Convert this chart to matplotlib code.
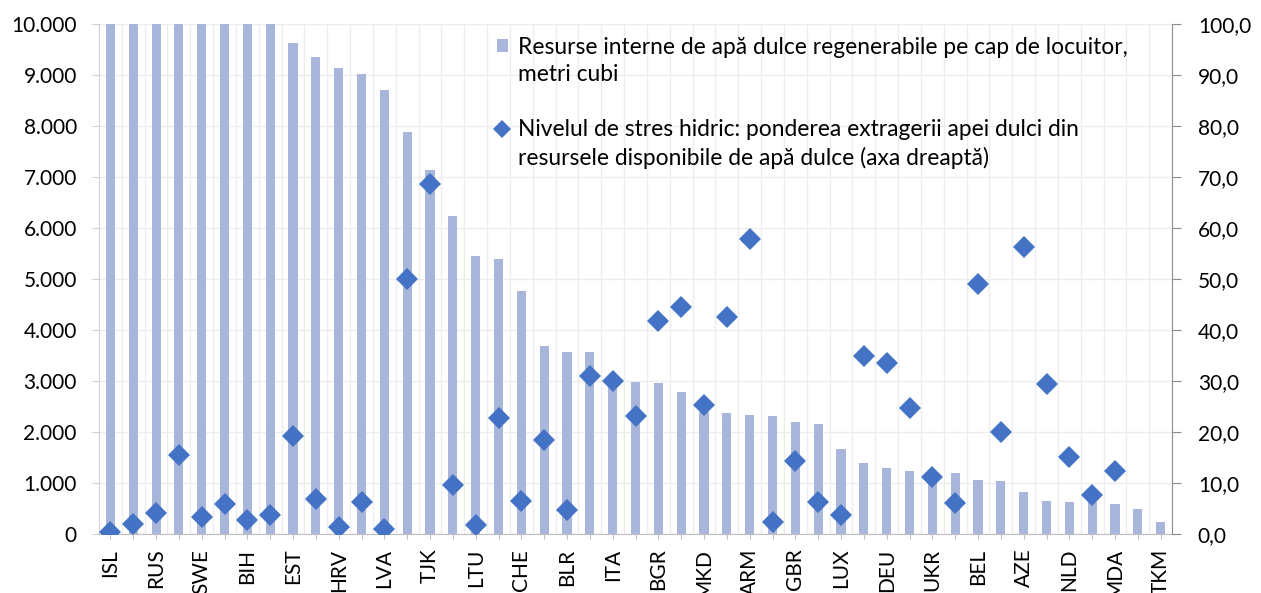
import matplotlib.pyplot as plt
from matplotlib.lines import Line2D
from matplotlib.patches import Patch
from matplotlib.ticker import FuncFormatter, FixedLocator
import numpy as np

plt.rcParams['font.family'] = ['Lato', 'DejaVu Sans']

# countries (only every other one is labelled on the axis)
countries = ['ISL', 'NOR', 'RUS', 'MNE', 'SWE', 'FIN', 'BIH', 'ALB', 'EST', 'SVN',
             'HRV', 'GEO', 'LVA', 'KGZ', 'TJK', 'AUT', 'LTU', 'IRL', 'CHE', 'SVK',
             'BLR', 'FRA', 'ITA', 'ROU', 'BGR', 'ESP', 'MKD', 'GRC', 'ARM', 'SRB',
             'GBR', 'PRT', 'LUX', 'KAZ', 'DEU', 'POL', 'UKR', 'HUN', 'BEL', 'CZE',
             'AZE', 'CYP', 'NLD', 'DNK', 'MDA', 'MLT', 'TKM']

# renewable internal freshwater resources per capita, m3 (first 8 run off the chart)
water_pc = [12000, 12000, 12000, 12000, 12000, 12000, 12000, 12000, 9633, 9347,
            9131, 9020, 8712, 7882, 7137, 6235, 5451, 5386, 4771, 3680,
            3575, 3562, 2970, 2987, 2954, 2791, 2400, 2379, 2327, 2314,
            2190, 2157, 1667, 1399, 1288, 1235, 1210, 1190, 1052, 1033,
            824, 654, 634, 620, 588, 497, 235]

# water stress level, % (right axis)
stress = [0.3, 2.0, 4.2, 15.4, 3.4, 5.9, 2.7, 3.7, 19.2, 6.9,
          1.4, 6.2, 1.0, 50.0, 68.6, 9.7, 1.8, 22.7, 6.5, 18.4,
          4.7, 31.0, 30.0, 23.1, 41.8, 44.5, 25.2, 42.6, 57.8, 2.4,
          14.3, 6.3, 3.7, 34.9, 33.5, 24.7, 11.1, 6.0, 49.0, 20.0,
          56.3, 29.5, 15.1, 7.6, 12.4, np.nan, np.nan]

bar_color = '#A9B6DC'
dot_color = '#4472C4'

fig = plt.figure(figsize=(12.61, 5.93), dpi=100)
ax = fig.add_axes([0.0785, 0.0995, 0.851, 0.86])
ax2 = ax.twinx()

x = np.arange(len(countries))
ax.bar(x, water_pc, width=0.4, color=bar_color, zorder=2)
ax2.plot(x, stress, linestyle='none', marker='D', markersize=11,
         color=dot_color, markeredgewidth=0, zorder=3)

ax.set_xlim(-0.5, len(countries) - 0.5)
ax.set_ylim(0, 10000)
ax2.set_ylim(0, 100)

ax.set_yticks(np.arange(0, 10001, 1000))
ax.yaxis.set_major_formatter(FuncFormatter(lambda v, p: f"{int(v):,}".replace(',', '.')))
ax2.set_yticks(np.arange(0, 101, 10))
ax2.yaxis.set_major_formatter(FuncFormatter(lambda v, p: f"{v:.1f}".replace('.', ',')))

ax.set_xticks(x)
ax.set_xticklabels([c if i % 2 == 0 else '' for i, c in enumerate(countries)],
                   rotation=90, fontsize=15)
ax.xaxis.set_minor_locator(FixedLocator(x[:-1] + 0.5))

ax.set_axisbelow(True)
ax.grid(axis='y', color='#EDEDED', linewidth=1, zorder=0)
ax.grid(axis='x', which='minor', color='#EDEDED', linewidth=1, zorder=0)

for a in (ax, ax2):
    a.spines['top'].set_visible(False)
ax.spines['left'].set_color('#D0D0D0')
ax.spines['bottom'].set_color('#BFBFBF')
ax.spines['right'].set_visible(False)
ax2.spines['left'].set_visible(False)
ax2.spines['bottom'].set_visible(False)
ax2.spines['right'].set_color('#8C8C8C')

ax.tick_params(axis='y', labelsize=15, length=5, color='#D0D0D0', pad=11)
ax.tick_params(axis='x', which='major', length=3.6, color='#BFBFBF', pad=7)
ax.tick_params(axis='x', which='minor', length=0)
ax2.tick_params(axis='y', labelsize=15, length=6.5, color='#8C8C8C', pad=12)

# legend: one row per text line so the markers sit on the first line of each label
blank = Patch(facecolor='none', edgecolor='none')
handles = [Patch(facecolor=bar_color, edgecolor='none'), blank, blank,
           Line2D([], [], linestyle='none', marker='D', markersize=9.5,
                  color=dot_color, markeredgewidth=0), blank]
labels = ['Resurse interne de apă dulce regenerabile pe cap de locuitor,',
          'metri cubi',
          ' ',
          'Nivelul de stres hidric: ponderea extragerii apei dulci din',
          'resursele disponibile de apă dulce (axa dreaptă)']
leg = ax2.legend(handles, labels, loc='upper left', bbox_to_anchor=(0.360, 0.997),
                 frameon=False, fontsize=16.4, handlelength=0.5, handleheight=0.5,
                 handletextpad=0.44, labelspacing=0.28, borderpad=0)

fig.savefig('out.png', dpi=100)
